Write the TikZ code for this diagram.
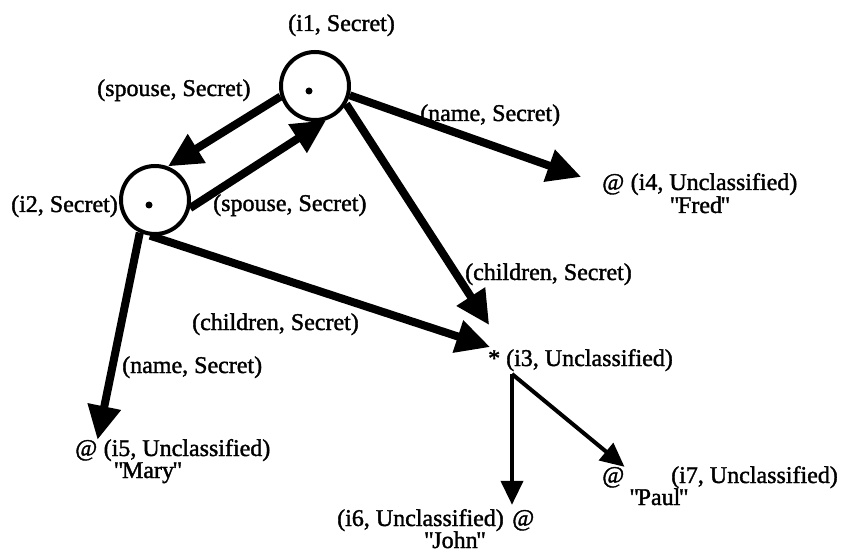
\documentclass[tikz,border=0pt]{standalone}
\usepackage{fontspec}
\setmainfont{Liberation Serif}[UprightFeatures={FakeBold=1.5}]
\usepackage{tikz}
\usetikzlibrary{arrows.meta,positioning,calc}
\tikzset{
    objeto/.style={
        circle,
        draw,
        fill=white,
        line width=4pt,
        minimum size=68pt,
        inner sep=0pt
    },
    rotulo/.style={inner sep=0pt},
    marca/.style={inner sep=0pt},
    ligacao/.style={-{Triangle[length=34pt, width=32pt]}, line width=8pt},
    ligacaoFina/.style={-{Triangle[length=24pt, width=22pt]}, line width=4pt}
}
% valor de um objeto atomico, entre aspas retas
\newcommand{\valor}[1]{\textquotedbl\kern-1.5pt#1\kern-1.5pt\textquotedbl}

\begin{document}
\begin{tikzpicture}[x=1pt, y=-1pt, font=\fontsize{24}{28}\selectfont]
    \useasboundingbox (0,0) rectangle (845,553);

    % objetos complexos
    \node[objeto] (i1) at (315,86) {};
    \node[objeto] (i2) at (155,200) {};
    \fill ($(i1)+(-6,5)$) circle (3.5pt);
    \fill ($(i2)+(-6,5)$) circle (3.5pt);
    \node[rotulo, anchor=base west] (i1id) at (288,31) {(i1, Secret)};
    \node[rotulo, anchor=base east] (i2id) at (118,212) {(i2, Secret)};

    % objetos atomicos (@) e conjunto (*)
    \node[marca, anchor=base west] (i4) at (602,190) {@};
    \node[rotulo, anchor=base west] (i4id) at ([xshift=6pt]i4.base east) {(i4, Unclassified)};
    \node[rotulo, anchor=base] (i4val) at (700,213) {\valor{Fred}};

    \node[marca, anchor=base west] (i3) at (488,366) {*};
    \node[rotulo, anchor=base west] (i3id) at (506,366) {(i3, Unclassified)};

    \node[marca, anchor=base west] (i5) at (75,456) {@};
    \node[rotulo, anchor=base west] (i5id) at ([xshift=6pt]i5.base east) {(i5, Unclassified)};
    \node[rotulo, anchor=base] (i5val) at (148,478) {\valor{Mary}};

    \node[marca, anchor=base west] (i7) at (602,483) {@};
    \node[rotulo, anchor=base west] (i7id) at (671,483) {(i7, Unclassified)};
    \node[rotulo, anchor=base] (i7val) at (659,505) {\valor{Paul}};

    \node[marca, anchor=base west] (i6) at (512,526) {@};
    \node[rotulo, anchor=base east] (i6id) at ([xshift=-8pt]i6.base west) {(i6, Unclassified)};
    \node[rotulo, anchor=base] (i6val) at (455,548) {\valor{John}};

    % rotulos das ligacoes
    \node[rotulo, anchor=base west] (conj1) at (97,96) {(spouse, Secret)};
    \node[rotulo, anchor=base west] (conj2) at (213,211) {(spouse, Secret)};
    \node[rotulo, anchor=base west] (nome1) at (420,121) {(name, Secret)};
    \node[rotulo, anchor=base west] (filhos1) at (465,280) {(children, Secret)};
    \node[rotulo, anchor=base west] (filhos2) at (192,330) {(children, Secret)};
    \node[rotulo, anchor=base west] (nome2) at (122,373) {(name, Secret)};

    \coordinate (ramo) at ([xshift=6pt, yshift=-8pt]i3id.base west);

    % ligacoes
    \draw[ligacao] (i1.197) -- (i2.69);
    \draw[ligacao] (i2.347) -- (i1.288);
    \draw[ligacao, shorten >=22pt] (i1.345) -- (i4.west);
    \draw[ligacao] (i1.330) -- ([xshift=-5pt, yshift=25pt]i3.north);
    \draw[ligacao] (i2.262) -- ([xshift=-4pt, yshift=3pt]i3.north);
    \draw[ligacao] (i2.245) -- (i5.north east);
    \draw[ligacaoFina] (ramo) -- (i7.north east);
    \draw[ligacaoFina, shorten >=5pt] (ramo) -- (ramo |- i6.north);
\end{tikzpicture}
\end{document}
